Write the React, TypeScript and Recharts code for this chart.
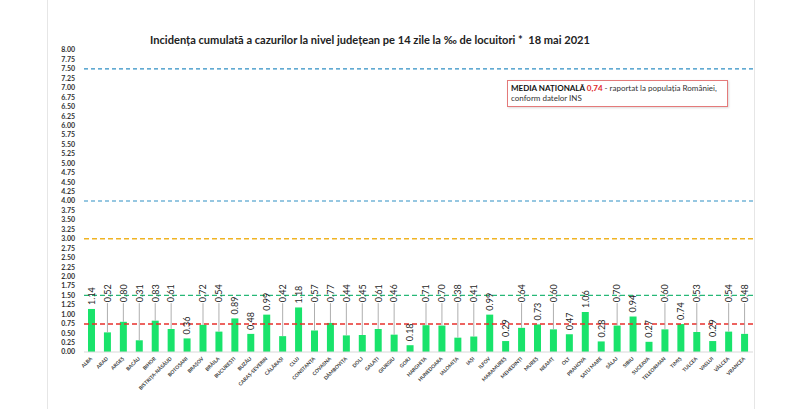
import { Bar, BarChart, LabelList, ReferenceLine, XAxis, YAxis } from "recharts";

const counties = [
  "ALBA", "ARAD", "ARGEȘ", "BACĂU", "BIHOR", "BISTRIȚA-NĂSĂUD", "BOTOȘANI", "BRAȘOV",
  "BRĂILA", "BUCUREȘTI", "BUZĂU", "CARAȘ-SEVERIN", "CĂLĂRAȘI", "CLUJ", "CONSTANȚA",
  "COVASNA", "DÂMBOVIȚA", "DOLJ", "GALAȚI", "GIURGIU", "GORJ", "HARGHITA", "HUNEDOARA",
  "IALOMIȚA", "IAȘI", "ILFOV", "MARAMUREȘ", "MEHEDINȚI", "MUREȘ", "NEAMȚ", "OLT",
  "PRAHOVA", "SATU MARE", "SĂLAJ", "SIBIU", "SUCEAVA", "TELEORMAN", "TIMIȘ", "TULCEA",
  "VASLUI", "VÂLCEA", "VRANCEA",
];

const incidence = [
  1.14, 0.52, 0.8, 0.31, 0.83, 0.61, 0.36, 0.72,
  0.54, 0.89, 0.48, 0.99, 0.42, 1.18, 0.57,
  0.77, 0.44, 0.45, 0.61, 0.46, 0.18, 0.71, 0.7,
  0.38, 0.41, 0.99, 0.29, 0.64, 0.73, 0.6, 0.47,
  1.06, 0.28, 0.7, 0.94, 0.27, 0.6, 0.74, 0.53,
  0.29, 0.54, 0.48,
];

// labels pulled up with a leader line, as in the original slide
const raisedLabels = [
  "ARAD", "ARGEȘ", "BACĂU", "BIHOR", "BISTRIȚA-NĂSĂUD", "BRAȘOV", "BRĂILA", "CĂLĂRAȘI",
  "CONSTANȚA", "COVASNA", "DÂMBOVIȚA", "DOLJ", "GALAȚI", "GIURGIU", "HARGHITA",
  "HUNEDOARA", "IALOMIȚA", "IAȘI", "MEHEDINȚI", "NEAMȚ", "SĂLAJ", "TELEORMAN",
  "TULCEA", "VÂLCEA", "VRANCEA",
];

const yTicks = [
  0, 0.25, 0.5, 0.75, 1, 1.25, 1.5, 1.75, 2, 2.25, 2.5, 2.75, 3, 3.25, 3.5, 3.75, 4,
  4.25, 4.5, 4.75, 5, 5.25, 5.5, 5.75, 6, 6.25, 6.5, 6.75, 7, 7.25, 7.5, 7.75, 8,
];

const upperLevels = [7.5, 4];
const warnLevel = 3;
const greenLevel = 1.5;
const nationalAverage = 0.74;
const raisedLabelLevel = 1.32;

const data = counties.map((name, i) => ({
  name,
  value: incidence[i],
  raised: raisedLabels.includes(name),
}));

const FONT = "Lato, 'Open Sans', sans-serif";

// county names drawn diagonally under each bar
function CountyName({ x, y, width, height, value }: any) {
  const cx = x + width / 2;
  const base = y + height;
  return (
    <text
      transform={`translate(${cx + 1},${base + 7}) rotate(-45)`}
      textAnchor="end"
      fontSize={5}
      fontWeight="bold"
      fontFamily={FONT}
      fill="#3a3a3a"
    >
      {value}
    </text>
  );
}

// LabelList is keyed on the county name so the row can be looked up
function ValueLabel({ x, y, width, height, value }: any) {
  const row = data.find((d) => d.name === value);
  if (!row) return null;
  const cx = x + width / 2;
  const base = y + height;
  const perUnit = height / row.value;
  const bottom = row.raised ? base - raisedLabelLevel * perUnit : y - 4;
  return (
    <g>
      {row.raised && (
        <line x1={cx} x2={cx} y1={y} y2={bottom + 1} stroke="#a6a6a6" strokeWidth={0.9} />
      )}
      <text
        transform={`translate(${cx + 3.3},${bottom}) rotate(-90)`}
        fontSize={9}
        fontFamily={FONT}
        fill="#1e1e1e"
      >
        {row.value.toFixed(2)}
      </text>
    </g>
  );
}

export default function App() {
  return (
    <div
      style={{
        position: "fixed",
        left: 0,
        top: 0,
        width: 800,
        height: 409,
        background: "#fff",
        overflow: "hidden",
      }}
    >
      <div
        style={{
          position: "absolute",
          left: 47,
          top: 0,
          width: 706,
          height: 409,
          borderLeft: "1px solid #e6e6e6",
          borderRight: "1px solid #e6e6e6",
        }}
      />
      <div
        style={{
          position: "absolute",
          left: 0,
          top: 33,
          width: 740,
          textAlign: "center",
          fontFamily: FONT,
          fontWeight: "bold",
          fontSize: 11.1,
          color: "#222",
        }}
      >
        Incidența cumulată a cazurilor la nivel județean pe 14 zile la ‰ de locuitori *&nbsp;&nbsp;18 mai 2021
      </div>
      <BarChart
        width={800}
        height={409}
        data={data}
        margin={{ top: 50, right: 47, bottom: 0, left: 0 }}
        style={{ position: "absolute", left: 0, top: 0, overflow: "visible" }}
      >
        <XAxis
          dataKey="name"
          interval={0}
          tickLine={false}
          tick={false}
          axisLine={{ stroke: "#d9d9d9" }}
          height={57}
        />
        <YAxis
          domain={[0, 8]}
          ticks={yTicks}
          interval={0}
          width={84}
          tickLine={false}
          axisLine={false}
          tickMargin={3}
          tickFormatter={(v) => Number(v).toFixed(2)}
          tick={{ fontSize: 7, fontFamily: FONT, fontWeight: "bold", fill: "#333" }}
        />
        <Bar dataKey="value" fill="#19e36b" barSize={7} isAnimationActive={false}>
          <LabelList dataKey="name" content={(props: any) => <ValueLabel {...props} />} />
          <LabelList dataKey="name" content={(props: any) => <CountyName {...props} />} />
        </Bar>
        {upperLevels.map((lv) => (
          <ReferenceLine key={lv} y={lv} stroke="#2f8fc4" strokeWidth={1.2} strokeDasharray="4 3" />
        ))}
        <ReferenceLine y={warnLevel} stroke="#f0b323" strokeWidth={1.3} strokeDasharray="5 3" />
        <ReferenceLine y={greenLevel} stroke="#27b877" strokeWidth={1.4} strokeDasharray="5 3" />
        <ReferenceLine y={nationalAverage} stroke="#e8302c" strokeWidth={1.5} strokeDasharray="5 3" />
      </BarChart>
      <div
        style={{
          position: "absolute",
          left: 507,
          top: 80,
          width: 213,
          height: 21,
          border: "1px solid #e47a7a",
          boxShadow: "1px 1px 2px rgba(0,0,0,0.15)",
          padding: "2px 3px",
          fontFamily: FONT,
          fontSize: 8,
          lineHeight: "10px",
          color: "#333",
          background: "#fff",
        }}
      >
        <span style={{ fontWeight: "bold", color: "#111" }}>MEDIA NAȚIONALĂ </span>
        <span style={{ fontWeight: "bold", color: "#e02a2a" }}>0,74</span>
        <span> - raportat la populația României,</span>
        <br />
        <span>conform datelor INS</span>
      </div>
    </div>
  );
}
